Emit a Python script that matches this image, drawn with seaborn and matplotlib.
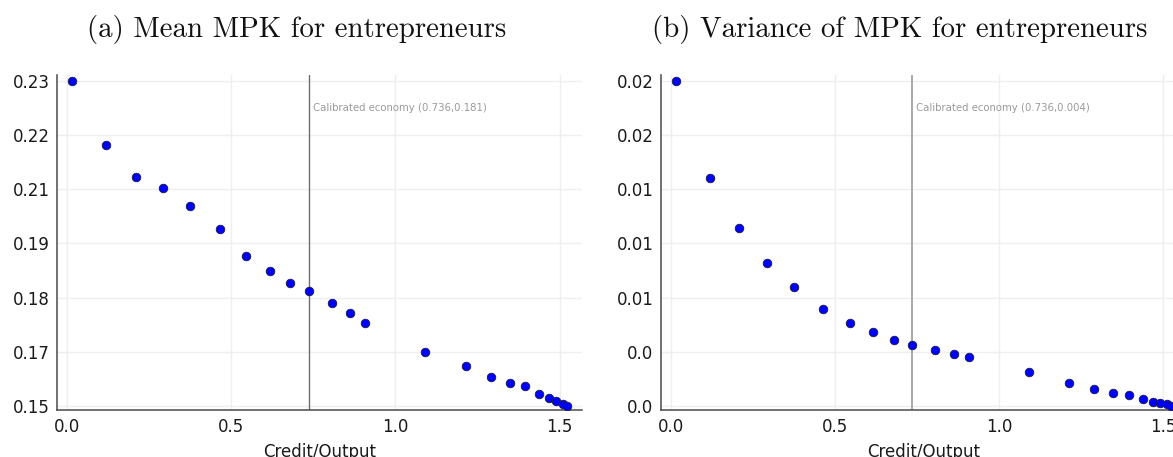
import numpy as np
import pandas as pd
import matplotlib
matplotlib.use("Agg")
import matplotlib.pyplot as plt
import matplotlib.transforms as mtransforms
import seaborn as sns

# ---------------- data ----------------
credit_output = [0.016, 0.119, 0.209, 0.294, 0.375, 0.465, 0.546, 0.617, 0.679, 0.736,
                 0.806, 0.863, 0.909, 1.090, 1.214, 1.290, 1.348, 1.395, 1.437, 1.469,
                 1.490, 1.510, 1.522]
mean_mpk = [0.2310, 0.2155, 0.2080, 0.2052, 0.2011, 0.1954, 0.1890, 0.1853, 0.1825, 0.1806,
            0.1778, 0.1754, 0.1730, 0.1659, 0.1627, 0.1600, 0.1585, 0.1579, 0.1560, 0.1550,
            0.1542, 0.1536, 0.1530]
var_mpk = [0.01928, 0.01368, 0.01080, 0.00878, 0.00740, 0.00613, 0.00528, 0.00476, 0.00432,
           0.00400, 0.00373, 0.00348, 0.00334, 0.00244, 0.00184, 0.00150, 0.00123, 0.00112,
           0.00089, 0.00075, 0.00066, 0.00060, 0.00050]
calib_x = 0.736
mean_ytick_labels = ["0.15", "0.17", "0.18", "0.19", "0.21", "0.22", "0.23"]
var_ytick_labels = ["0.0", "0.0", "0.01", "0.01", "0.01", "0.02", "0.02"]
xtick_values = [0.0, 0.5, 1.0, 1.5]
xtick_labels = ["0.0", "0.5", "1.0", "1.5"]
titles = ["(a) Mean MPK for entrepreneurs", "(b) Variance of MPK for entrepreneurs"]
annotations = ["Calibrated economy (0.736,0.181)", "Calibrated economy (0.736,0.004)"]
xlabel = "Credit/Output"

df = pd.DataFrame({"x": credit_output, "mean": mean_mpk, "var": var_mpk})

# ---------------- style ----------------
sns.set_theme(style="white")
plt.rcParams["font.family"] = ["DejaVu Sans"]

W, H = 1173, 457
fig = plt.figure(figsize=(W / 100, H / 100), dpi=100)

ax_w = 524.4 / W
ax_b = (H - 410) / H
ax_h = 335 / H
axes = [fig.add_axes([57.3 / W, ax_b, ax_w, ax_h]),
        fig.add_axes([661.0 / W, ax_b, ax_w, ax_h])]

cols = ["mean", "var"]
ylabels_list = [mean_ytick_labels, var_ytick_labels]
vline_colors = ["#6e6e6e", "#a8a8a8"]
vline_widths = [1.0, 1.4]
title_centers = [297, 900]

xmin, xmax = min(credit_output), max(credit_output)
xr = xmax - xmin

for ax, col, ylabs, vc, vw, ann, ttl, tc in zip(axes, cols, ylabels_list, vline_colors,
                                                 vline_widths, annotations, titles, title_centers):
    y = df[col]
    ymin, ymax = y.min(), y.max()
    yr = ymax - ymin
    yt = np.linspace(ymin, ymax, 7)

    ax.set_xlim(xmin - 0.03 * xr, xmax + 0.03 * xr)
    ax.set_ylim(ymin - 0.012 * yr, ymax + 0.018 * yr)

    ax.set_xticks(xtick_values)
    ax.set_xticklabels(xtick_labels)
    ax.set_yticks(yt)
    ax.set_yticklabels(ylabs)

    ax.grid(True, color="#efefef", linewidth=1.0)
    ax.set_axisbelow(True)

    ax.axvline(calib_x, color=vc, linewidth=vw, zorder=2)

    sns.scatterplot(data=df, x="x", y=col, ax=ax, color="#0000ff", edgecolor="#1a1a40",
                    linewidth=0.6, s=38, zorder=3, legend=False)

    trans = mtransforms.blended_transform_factory(ax.transData, ax.transAxes)
    ax.text(calib_x + 0.012, 0.902, ann, transform=trans, fontsize=7.3, color="#9a9a9a",
            ha="left", va="center")

    for s in ["top", "right"]:
        ax.spines[s].set_visible(False)
    for s in ["left", "bottom"]:
        ax.spines[s].set_color("#4a4a4a")
        ax.spines[s].set_linewidth(1.1)

    ax.tick_params(axis="both", direction="in", length=4, width=0.9, color="#4a4a4a",
                   labelsize=12, labelcolor="#1a1a1a", pad=5.5)
    ax.set_xlabel(xlabel, fontsize=12, color="#1a1a1a", labelpad=5)
    ax.set_ylabel("")

    fig.text(tc / W, 1 - 30 / H, ttl, fontsize=20.8, family="cmr10", ha="center",
             va="center", color="#111111")

fig.savefig("out.png", dpi=100)
